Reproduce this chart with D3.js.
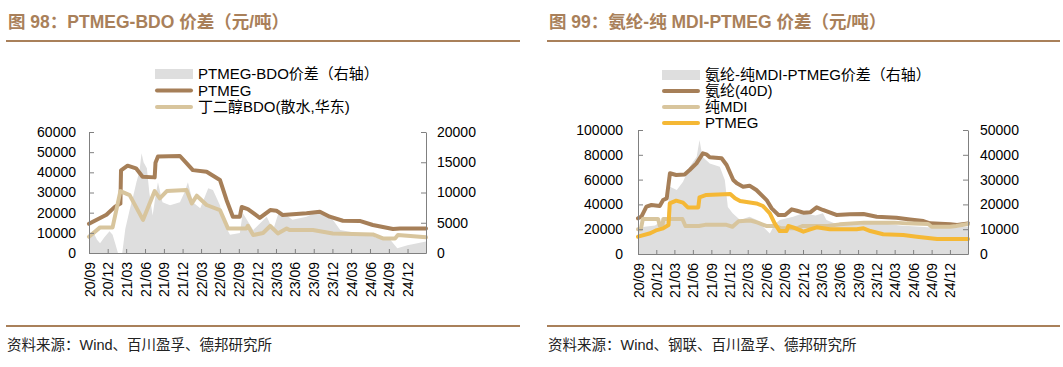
<!DOCTYPE html>
<html>
<head>
<meta charset="utf-8">
<script src="https://cdn.jsdelivr.net/npm/d3@7"></script>
<style>
  body { margin: 0; background: #fff; }
  svg { display: block; font-family: 'Liberation Sans', Arial, 'Noto Sans CJK SC', sans-serif; }
</style>
</head>
<body>
<div id="chart"></div>
<script>
// ---- data ----
// chart 98: PTMEG-BDO spread
const ptmegA = [
  ['2020-09-01', 14500], ['2020-11-25', 19000], ['2021-01-06', 23000], ['2021-02-01', 24500],
  ['2021-02-04', 41000], ['2021-03-08', 43300], ['2021-04-18', 42000], ['2021-05-20', 37800],
  ['2021-07-18', 37500], ['2021-07-22', 44800], ['2021-08-03', 47800], ['2021-11-18', 48100],
  ['2021-12-20', 44600], ['2022-01-20', 41100], ['2022-03-28', 40300], ['2022-06-01', 36200],
  ['2022-07-03', 26300], ['2022-08-03', 18000], ['2022-09-06', 18000], ['2022-09-15', 22800],
  ['2022-10-15', 21800], ['2022-12-12', 17400], ['2023-02-01', 21300], ['2023-03-03', 21000],
  ['2023-04-03', 18800], ['2023-07-28', 19700], ['2023-10-01', 20500], ['2023-11-18', 18000],
  ['2024-01-21', 16000], ['2024-04-12', 15900], ['2024-06-15', 13900], ['2024-09-21', 11900],
  ['2024-10-25', 12200], ['2025-03-01', 12200]
];
const bdo = [
  ['2020-09-01', 8100], ['2020-10-25', 12700], ['2020-12-25', 12700], ['2021-02-01', 30700],
  ['2021-03-18', 28700], ['2021-05-22', 16400], ['2021-07-18', 30700], ['2021-08-12', 27100],
  ['2021-09-15', 30700], ['2021-12-20', 31200], ['2022-01-15', 24600], ['2022-02-08', 28400],
  ['2022-03-28', 23800], ['2022-06-01', 21300], ['2022-07-10', 12200], ['2022-10-08', 12200],
  ['2022-10-15', 13500], ['2022-11-10', 8900], ['2022-12-28', 9900], ['2023-02-01', 13400],
  ['2023-03-10', 9700], ['2023-04-22', 12200], ['2023-05-06', 11400], ['2023-08-28', 11400],
  ['2023-12-03', 9700], ['2024-06-15', 9200], ['2024-08-03', 7200], ['2024-10-01', 7200],
  ['2024-10-15', 8900], ['2025-03-01', 7800]
];
const spreadA = [
  ['2020-09-01', 3000], ['2020-09-20', 3600], ['2020-10-10', 2200], ['2020-10-25', 1600],
  ['2020-11-15', 2600], ['2020-12-10', 3600], ['2020-12-25', 3000], ['2021-01-10', 1200],
  ['2021-01-20', 0], ['2021-02-10', 0], ['2021-02-25', 4000], ['2021-03-18', 7100],
  ['2021-04-05', 9500], ['2021-04-20', 11700], ['2021-05-05', 13500], ['2021-05-15', 16500],
  ['2021-05-25', 15000], ['2021-06-10', 14000], ['2021-06-22', 10000], ['2021-07-08', 6200],
  ['2021-07-20', 9000], ['2021-08-03', 11700], ['2021-08-25', 8400], ['2021-10-01', 7900],
  ['2021-11-18', 8400], ['2021-12-10', 10000], ['2021-12-27', 11700], ['2022-01-20', 8400],
  ['2022-02-25', 7400], ['2022-04-05', 10700], ['2022-04-28', 10400], ['2022-06-01', 7900],
  ['2022-06-25', 4600], ['2022-07-20', 3000], ['2022-09-06', 3300], ['2022-09-20', 6600],
  ['2022-11-10', 3800], ['2023-01-15', 6000], ['2023-02-15', 3800], ['2023-03-18', 7100],
  ['2023-05-20', 5500], ['2023-07-28', 6000], ['2023-10-01', 7100], ['2023-12-03', 5500],
  ['2024-01-08', 3800], ['2024-03-28', 3300], ['2024-06-15', 3000], ['2024-07-01', 2500],
  ['2024-09-01', 2500], ['2024-10-12', 800], ['2024-12-01', 1300], ['2025-03-01', 1900]
];

// chart 99: spandex - MDI - PTMEG spread
const spandex = [
  ['2020-09-01', 28800], ['2020-09-18', 30100], ['2020-10-13', 38200], ['2020-11-07', 39500],
  ['2020-12-18', 38700], ['2021-01-04', 43500], ['2021-01-22', 44900], ['2021-02-07', 65100],
  ['2021-03-10', 63700], ['2021-04-21', 64200], ['2021-05-16', 67700], ['2021-06-19', 73100],
  ['2021-07-21', 81200], ['2021-08-07', 80400], ['2021-08-24', 78000], ['2021-10-22', 77200],
  ['2021-11-16', 71800], ['2021-12-19', 59700], ['2022-01-06', 57000], ['2022-02-06', 54300],
  ['2022-03-10', 55100], ['2022-04-13', 51600], ['2022-06-03', 43500], ['2022-06-28', 36800],
  ['2022-08-01', 31500], ['2022-09-03', 31500], ['2022-10-06', 36000], ['2022-11-01', 34900],
  ['2022-12-03', 33300], ['2023-01-06', 33600], ['2023-02-07', 37600], ['2023-03-10', 35500],
  ['2023-05-16', 31500], ['2023-07-22', 32000], ['2023-09-28', 32300], ['2023-12-03', 30100],
  ['2024-03-10', 29300], ['2024-05-16', 27900], ['2024-07-22', 26600], ['2024-08-24', 24700],
  ['2024-12-03', 23900], ['2025-01-06', 23400], ['2025-03-01', 24700]
];
const mdi = [
  ['2020-09-01', 19900], ['2020-09-15', 19900], ['2020-09-25', 28200], ['2020-12-10', 28200],
  ['2020-12-18', 23000], ['2021-01-01', 23000], ['2021-01-05', 28200], ['2021-04-10', 28200],
  ['2021-04-25', 22600], ['2021-07-01', 22600], ['2021-08-01', 23500], ['2021-11-15', 23500],
  ['2021-12-15', 22000], ['2022-01-15', 26500], ['2022-03-15', 27000], ['2022-04-20', 25300],
  ['2022-06-01', 22600], ['2022-07-15', 22600], ['2022-08-15', 20700], ['2022-11-01', 20700],
  ['2022-12-01', 22600], ['2023-04-01', 22600], ['2023-06-01', 23900], ['2023-10-01', 25300],
  ['2024-03-01', 25300], ['2024-05-01', 24700], ['2024-08-15', 24200], ['2024-09-01', 22000],
  ['2024-12-01', 22000], ['2025-01-01', 22600], ['2025-03-01', 24200]
];
const ptmegB = [
  ['2020-09-01', 14000], ['2020-11-01', 16700], ['2020-12-04', 19300], ['2021-01-04', 20700],
  ['2021-01-31', 23400], ['2021-02-06', 40800], ['2021-03-10', 43000], ['2021-04-13', 41400],
  ['2021-05-07', 37600], ['2021-06-28', 37600], ['2021-07-04', 45700], ['2021-08-07', 47600],
  ['2021-12-04', 48400], ['2021-12-28', 44900], ['2022-01-22', 42700], ['2022-04-13', 40800],
  ['2022-05-16', 38700], ['2022-06-19', 32800], ['2022-07-13', 24700], ['2022-08-07', 18500],
  ['2022-09-10', 18500], ['2022-09-19', 22600], ['2022-10-13', 21500], ['2022-12-03', 18000],
  ['2023-01-06', 19900], ['2023-02-07', 21500], ['2023-04-13', 19900], ['2023-08-25', 19900],
  ['2023-09-28', 20700], ['2023-11-01', 18500], ['2024-01-04', 15900], ['2024-04-13', 15300],
  ['2024-06-19', 14000], ['2024-09-28', 12100], ['2025-03-01', 12100]
];
const spreadB = [
  ['2020-09-01', 10000], ['2020-10-04', 11000], ['2020-11-25', 11500], ['2021-01-04', 13700],
  ['2021-01-22', 14000], ['2021-02-07', 27100], ['2021-03-13', 25800], ['2021-04-13', 29100],
  ['2021-05-16', 35200], ['2021-06-20', 39200], ['2021-07-04', 46000], ['2021-07-19', 39200],
  ['2021-08-24', 36500], ['2021-10-13', 35200], ['2021-11-07', 29800], ['2021-11-22', 19000],
  ['2021-12-16', 16400], ['2022-01-22', 13700], ['2022-03-10', 15000], ['2022-04-16', 13700],
  ['2022-05-16', 11000], ['2022-06-19', 8300], ['2022-07-13', 12000], ['2022-08-07', 13700],
  ['2022-10-13', 15000], ['2022-12-01', 16400], ['2023-02-01', 15500], ['2023-03-10', 16400],
  ['2023-03-28', 13700], ['2023-05-18', 12000], ['2023-09-10', 12000], ['2023-12-18', 12500],
  ['2024-03-28', 11500], ['2024-07-06', 11000], ['2024-10-12', 10500], ['2025-03-01', 11000]
];

const leftTicksA = [0, 10000, 20000, 30000, 40000, 50000, 60000];
const rightTicksA = [0, 5000, 10000, 15000, 20000];
const leftTicksB = [0, 20000, 40000, 60000, 80000, 100000];
const rightTicksB = [0, 10000, 20000, 30000, 40000, 50000];

const titleA = '图 98：PTMEG-BDO 价差（元/吨）';
const titleB = '图 99：氨纶-纯 MDI-PTMEG 价差（元/吨）';
const sourceA = '资料来源：Wind、百川盈孚、德邦研究所';
const sourceB = '资料来源：Wind、钢联、百川盈孚、德邦研究所';

// ---- drawing ----
const parse = d3.timeParse('%Y-%m-%d');
const start = parse('2020-09-01');
const end = parse('2025-03-01');
// quarterly ticks starting at 20/09 (every 3rd month from the start)
const dateTicks = d3.timeMonth.range(start, parse('2025-01-01'), 3);

const GOLD = '#a9805a';
const BROWN = '#a67f58';
const BEIGE = '#d8c59d';
const YELLOW = '#f5b835';
const GREY = '#dedede';
const AXIS = '#808080';

const svg = d3.select('#chart').append('svg')
  .attr('width', 1063).attr('height', 367);

function drawPanel(p) {
  const g = svg.append('g');

  // header and footer
  g.append('text').attr('x', p.px0 + 2).attr('y', 28)
    .attr('fill', GOLD).attr('font-weight', 'bold').attr('font-size', 17.5)
    .text(p.title);
  g.append('line').attr('x1', p.px0).attr('x2', p.px1).attr('y1', 41).attr('y2', 41)
    .attr('stroke', GOLD).attr('stroke-width', 2);
  g.append('line').attr('x1', p.px0).attr('x2', p.px1).attr('y1', 326).attr('y2', 326)
    .attr('stroke', GOLD).attr('stroke-width', 2);
  g.append('text').attr('x', p.px0 + 1).attr('y', 350)
    .attr('font-size', 14.5).attr('fill', '#222')
    .text(p.source);

  const x = d3.scaleTime().domain([start, end]).range([p.x0, p.x1]);
  const yL = d3.scaleLinear().domain([0, p.leftMax]).range([p.yBot, p.yTop]);
  const yR = d3.scaleLinear().domain([0, p.rightMax]).range([p.yBot, p.yTop]);

  // spread area on right axis
  g.append('path')
    .datum(p.spread)
    .attr('fill', GREY)
    .attr('d', d3.area().x(d => x(parse(d[0]))).y0(yR(0)).y1(d => yR(d[1])));

  p.lines.forEach(s => {
    g.append('path')
      .datum(s.data)
      .attr('fill', 'none')
      .attr('stroke', s.color)
      .attr('stroke-width', 4)
      .attr('stroke-linejoin', 'round')
      .attr('stroke-linecap', 'round')
      .attr('d', d3.line().x(d => x(parse(d[0]))).y(d => yL(d[1])));
  });

  // axes, ticks pointing inwards
  const left = g.append('g').attr('transform', 'translate(' + p.x0 + ',0)')
    .call(d3.axisLeft(yL).tickValues(p.leftTicks).tickFormat(d3.format('d'))
      .tickSizeInner(-5).tickSizeOuter(0).tickPadding(p.padL));
  const right = g.append('g').attr('transform', 'translate(' + p.x1 + ',0)')
    .call(d3.axisRight(yR).tickValues(p.rightTicks).tickFormat(d3.format('d'))
      .tickSizeInner(-5).tickSizeOuter(0).tickPadding(p.padR));
  const bottom = g.append('g').attr('transform', 'translate(0,' + p.yBot + ')')
    .call(d3.axisBottom(x).tickValues(dateTicks).tickFormat(d3.timeFormat('%y/%m'))
      .tickSizeInner(-4).tickSizeOuter(0));
  bottom.selectAll('text')
    .attr('transform', 'rotate(-90)')
    .attr('x', -9).attr('y', 0).attr('dy', '0.36em')
    .style('text-anchor', 'end');
  [left, right, bottom].forEach(a => {
    a.attr('font-size', 14).attr('font-family', null);
    a.selectAll('path, line').attr('stroke', AXIS);
    a.selectAll('text').attr('fill', '#000');
  });

  // legend
  const lg = g.append('g').attr('font-size', 15);
  p.legend.forEach((item, i) => {
    const ly = p.legY + i * p.legStep;
    if (item.area) {
      lg.append('rect').attr('x', p.legX).attr('y', ly - 5).attr('width', 38).attr('height', 10)
        .attr('fill', GREY);
    } else {
      lg.append('line').attr('x1', p.legX + 2).attr('x2', p.legX + 36).attr('y1', ly).attr('y2', ly)
        .attr('stroke', item.color).attr('stroke-width', 4).attr('stroke-linecap', 'round');
    }
    lg.append('text').attr('x', p.legX + 43).attr('y', ly).attr('dy', '0.36em')
      .attr('fill', '#000').text(item.label);
  });
}

drawPanel({
  title: titleA, source: sourceA, px0: 6, px1: 520,
  x0: 89, x1: 426, yTop: 132, yBot: 253,
  leftMax: 60000, rightMax: 20000, leftTicks: leftTicksA, rightTicks: rightTicksA,
  padL: 13, padR: 11,
  spread: spreadA,
  lines: [{ data: ptmegA, color: BROWN }, { data: bdo, color: BEIGE }],
  legX: 155, legY: 74, legStep: 16.5,
  legend: [
    { label: 'PTMEG-BDO价差（右轴）', area: true },
    { label: 'PTMEG', color: BROWN },
    { label: '丁二醇BDO(散水,华东)', color: BEIGE }
  ]
});

drawPanel({
  title: titleB, source: sourceB, px0: 547, px1: 1060,
  x0: 638, x1: 968, yTop: 130, yBot: 254,
  leftMax: 100000, rightMax: 50000, leftTicks: leftTicksB, rightTicks: rightTicksB,
  padL: 15, padR: 12,
  spread: spreadB,
  lines: [{ data: spandex, color: BROWN }, { data: mdi, color: BEIGE }, { data: ptmegB, color: YELLOW }],
  legX: 662, legY: 75, legStep: 16,
  legend: [
    { label: '氨纶-纯MDI-PTMEG价差（右轴）', area: true },
    { label: '氨纶(40D)', color: BROWN },
    { label: '纯MDI', color: BEIGE },
    { label: 'PTMEG', color: YELLOW }
  ]
});
</script>
</body>
</html>
